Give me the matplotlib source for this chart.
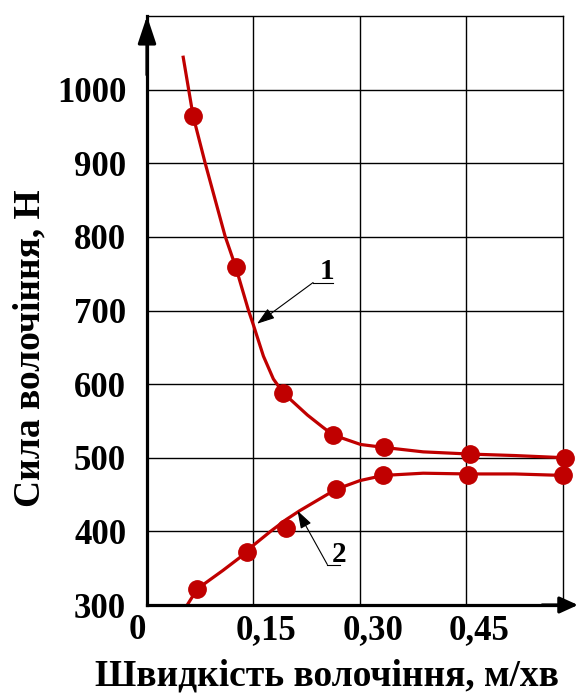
import matplotlib
matplotlib.use("Agg")
import matplotlib.pyplot as plt
from matplotlib import transforms

# measured points (speed m/min, force N)
speed_1 = [0.065, 0.125, 0.192, 0.262, 0.334, 0.455, 0.589]
force_1 = [964, 759, 588, 531, 514, 505, 500]
speed_2 = [0.071, 0.141, 0.196, 0.266, 0.333, 0.452, 0.586]
force_2 = [322, 372, 405, 457, 476, 477, 476]

# approximating curves
trend_speed_1 = [0.051, 0.065, 0.082, 0.110, 0.125, 0.143, 0.150, 0.164, 0.178,
                 0.192, 0.226, 0.247, 0.262, 0.301, 0.334, 0.389, 0.455, 0.518, 0.589]
trend_force_1 = [1044, 964, 900, 801, 759, 700, 680, 638, 607,
                 588, 558, 542, 531, 518, 514, 508, 505, 503, 500]
trend_speed_2 = [0.056, 0.071, 0.107, 0.141, 0.151, 0.174, 0.196, 0.215, 0.266,
                 0.300, 0.333, 0.389, 0.452, 0.518, 0.586]
trend_force_2 = [299, 322, 347, 372, 382, 400, 416, 428, 457,
                 469, 476, 479, 478, 478, 476]

x_ticks = [0, 0.15, 0.30, 0.45]
x_tick_labels = ["0", "0,15", "0,30", "0,45"]
y_ticks = [300, 400, 500, 600, 700, 800, 900, 1000]

red = "#C00000"

plt.rcParams['font.family'] = ['Liberation Serif', 'DejaVu Serif']
plt.rcParams['font.weight'] = 'bold'

fig = plt.figure(figsize=(5.79, 6.93), dpi=100)
ax = fig.add_axes([147 / 579, 88 / 693, 416 / 579, 589 / 693])
ax.set_xlim(0, 0.586)
ax.set_ylim(300, 1100)

# grid
ax.set_xticks(x_ticks[1:])
ax.set_yticks(y_ticks)
ax.set_xticklabels([])
ax.set_yticklabels([str(v) for v in y_ticks], fontsize=25)
ax.tick_params(length=0)
ax.tick_params(axis='y', pad=15)
ax.grid(color='black', lw=1.0)

for side in ['top', 'right']:
    ax.spines[side].set_linewidth(1.0)
for side in ['left', 'bottom']:
    ax.spines[side].set_linewidth(2.3)

# axis arrows
ax.annotate('', xy=(0, 1.0), xytext=(0, 0.9), xycoords='axes fraction',
            arrowprops=dict(arrowstyle='-|>,head_length=1.65,head_width=0.55',
                            color='black', lw=2.3, shrinkA=0, shrinkB=0,
                            mutation_scale=10), annotation_clip=False)
ax.annotate('', xy=(1.036, 0), xytext=(0.95, 0), xycoords='axes fraction',
            arrowprops=dict(arrowstyle='-|>,head_length=1.1,head_width=0.5',
                            color='black', lw=2.3, shrinkA=0, shrinkB=0,
                            mutation_scale=10), annotation_clip=False)

# x tick labels (shifted a bit like in the original)
tx = transforms.blended_transform_factory(ax.transData, fig.transFigure)
for v, lab in zip(x_ticks, x_tick_labels):
    shift = -0.014 if v == 0 else 0.018
    ax.text(v + shift, 1 - 639 / 693, lab, transform=tx, ha='center',
            va='baseline', fontsize=25)

# curves
ax.plot(trend_speed_1, trend_force_1, color=red, lw=2.3, solid_joinstyle='round')
ax.plot(trend_speed_2, trend_force_2, color=red, lw=2.3, solid_joinstyle='round')
ax.plot(speed_1, force_1, 'o', color=red, ms=12.5, clip_on=False, zorder=5)
ax.plot(speed_2, force_2, 'o', color=red, ms=12.5, clip_on=False, zorder=5)


def label_curve(text, text_xy, shelf_x, shelf_y, tip_xy):
    ax.plot(shelf_x, [shelf_y, shelf_y], color='black', lw=0.8)
    ax.annotate('', xy=tip_xy, xytext=(shelf_x[0], shelf_y),
                arrowprops=dict(arrowstyle='-|>,head_length=0.9,head_width=0.3',
                                color='black', lw=0.8, shrinkA=0, shrinkB=0,
                                mutation_scale=12))
    ax.text(text_xy[0], text_xy[1], text, ha='center', va='baseline', fontsize=21)


label_curve("1", (0.254, 743), [0.234, 0.262], 738, (0.155, 682))
label_curve("2", (0.271, 359), [0.254, 0.272], 355, (0.212, 428))

fig.text(327 / 579, 1 - 685 / 693, "Швидкість волочіння, м/хв", ha='center',
         va='baseline', fontsize=27)
fig.text(30 / 579, 1 - 348 / 693, "Сила волочіння, Н", rotation=90,
         ha='center', va='center', fontsize=27)

fig.savefig("out.png", dpi=100)
